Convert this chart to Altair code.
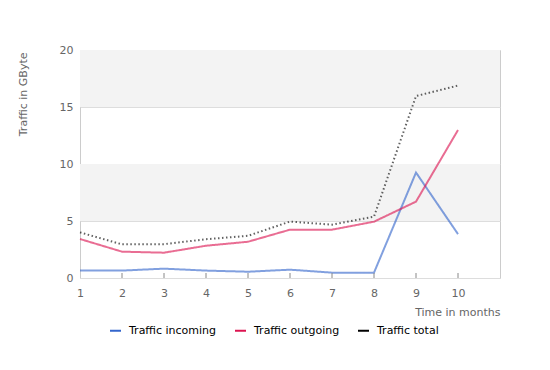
import altair as alt
import pandas as pd

months = [1, 2, 3, 4, 5, 6, 7, 8, 9, 10]
incoming = [0.65, 0.65, 0.82, 0.65, 0.55, 0.73, 0.47, 0.47, 9.25, 3.85]
outgoing = [3.42, 2.31, 2.22, 2.83, 3.18, 4.24, 4.24, 4.94, 6.70, 12.98]
total = [4.00, 2.95, 2.97, 3.40, 3.70, 4.95, 4.68, 5.38, 15.96, 16.88]
series_names = ["Traffic incoming", "Traffic outgoing", "Traffic total"]
series_colors = ["#3366cc", "#dc1450", "#000000"]
band_lo = [5, 15]
band_hi = [10, 20]

W, H = 420, 228
FONT = "DejaVu Sans"

rows = []
for name, vals in zip(series_names, [incoming, outgoing, total]):
    for m, v in zip(months, vals):
        rows.append({"month": m, "value": v, "series": name})
df = pd.DataFrame(rows)
bands = pd.DataFrame({"lo": band_lo, "hi": band_hi})
ticks = pd.DataFrame({"month": months[1:]})

xscale = alt.Scale(domain=[1, 11], nice=False, zero=False)
yscale = alt.Scale(domain=[0, 20], nice=False)

band_layer = alt.Chart(bands).mark_rect(color="#f3f3f3").encode(
    x=alt.value(0), x2=alt.value(W),
    y=alt.Y("lo:Q", scale=yscale,
            axis=alt.Axis(values=[0, 5, 10, 15, 20], grid=True, gridColor="#dddddd",
                          ticks=False, domain=False, labelPadding=7,
                          title="Traffic in GByte", titleX=-57, titleY=2,
                          titleAngle=270, titleAlign="right", titleBaseline="middle")),
    y2="hi:Q",
)

lines = alt.Chart(df).mark_line(opacity=0.62, strokeWidth=2).encode(
    x=alt.X("month:Q", scale=xscale,
            axis=alt.Axis(values=months, ticks=False, domain=False, grid=False,
                          labelPadding=9, labelFlush=False, title="Time in months",
                          titleX=W, titleY=34, titleAlign="right",
                          titleBaseline="middle")),
    y=alt.Y("value:Q", scale=yscale),
    color=alt.Color("series:N", scale=alt.Scale(domain=series_names, range=series_colors),
                    legend=alt.Legend(title=None, orient="none", direction="horizontal",
                                      legendX=29, legendY=274, symbolType="stroke",
                                      symbolSize=121, symbolStrokeWidth=2.5,
                                      symbolOpacity=1, labelOffset=7, columnPadding=14,
                                      padding=0, labelFont=FONT, labelFontSize=11,
                                      labelColor="#000000")),
    strokeDash=alt.StrokeDash("series:N",
                              scale=alt.Scale(domain=series_names,
                                              range=[[1, 0], [1, 0], [1.5, 2.5]]),
                              legend=None),
    strokeWidth=alt.StrokeWidth("series:N",
                                scale=alt.Scale(domain=series_names, range=[2, 2, 1.5]),
                                legend=None),
)

tick_layer = alt.Chart(ticks).mark_rule(color="#888888", strokeWidth=1).encode(
    x=alt.X("month:Q", scale=xscale),
    y=alt.value(H), y2=alt.value(H - 5),
)

chart = alt.layer(band_layer, lines, tick_layer).properties(
    width=W, height=H,
    autosize=alt.AutoSizeParams(type="none"),
    padding={"left": 72, "top": 42, "right": 30, "bottom": 70},
).configure_view(
    stroke="#cccccc", strokeWidth=1
).configure_axis(
    labelFont=FONT, labelFontSize=11, labelColor="#666666",
    titleFont=FONT, titleFontSize=11, titleColor="#666666", titleFontWeight="normal",
).resolve_scale(strokeDash="independent")

chart.save("out.html", embed_options={"renderer": "svg", "actions": False})
